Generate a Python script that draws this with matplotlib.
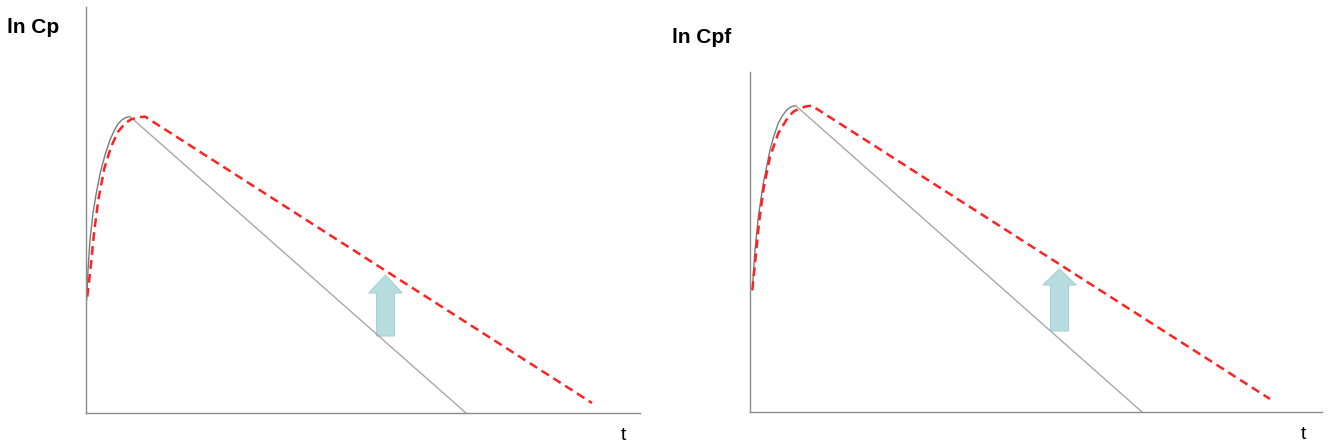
import matplotlib
matplotlib.use("Agg")
import matplotlib.pyplot as plt

plt.rcParams["font.family"] = ["Liberation Sans", "DejaVu Sans"]

# Painel esquerdo: ln Cp (tempo e ln C em unidades arbitrárias)
cp_real_t = [0.014, 0.04, 0.08, 0.14, 0.21, 0.29, 0.38, 0.48, 0.56, 0.64, 0.72, 0.80, 0.88]
cp_real_y = [2.83, 3.58, 4.33, 5.0, 5.53, 6.03, 6.45, 6.83, 7.05, 7.23, 7.33, 7.39, 7.41]
cp_elim_t = [0.88, 7.60]
cp_elim_y = [7.41, 0.0]
cp_pred_t = [0.026, 0.094, 0.16, 0.246, 0.37, 0.50, 0.64, 0.78, 0.90, 1.04, 1.18, 10.12]
cp_pred_y = [2.91, 3.66, 4.49, 5.33, 6.13, 6.65, 7.03, 7.24, 7.34, 7.39, 7.41, 0.25]
cp_seta_t = 5.99
cp_seta_y = [1.925, 3.45]

# Painel direito: ln Cpf
cpf_real_t = [0.046, 0.10, 0.166, 0.266, 0.40, 0.48, 0.566, 0.65, 0.734, 0.82, 0.914]
cpf_real_y = [3.05, 4.05, 4.88, 5.72, 6.55, 6.91, 7.22, 7.41, 7.55, 7.63, 7.66]
cpf_elim_t = [0.914, 7.84]
cpf_elim_y = [7.66, 0.0]
cpf_pred_t = [0.046, 0.114, 0.18, 0.266, 0.40, 0.566, 0.766, 0.88, 1.0, 1.12, 1.234, 10.4]
cpf_pred_y = [3.05, 3.88, 4.72, 5.55, 6.38, 6.97, 7.38, 7.52, 7.59, 7.64, 7.66, 0.325]
cpf_seta_t = 6.19
cpf_seta_y = [2.025, 3.575]

W, H = 1330, 444
fig = plt.figure(figsize=(W / 100, H / 100), dpi=100)


def painel(rect, xlim, ylim, real_t, real_y, elim_t, elim_y, pred_t, pred_y,
           seta_t, seta_y, head_len):
    ax = fig.add_axes(rect)
    ax.set_xlim(*xlim)
    ax.set_ylim(*ylim)
    ax.plot(real_t, real_y, color="#7a7a7a", lw=1.0, solid_joinstyle="round")
    ax.plot(elim_t, elim_y, color="#a8a8a8", lw=1.0)
    ax.plot(pred_t, pred_y, color="#ff2222", lw=1.8, linestyle=(0, (3.5, 2.1)))
    # Seta indicando o deslocamento da curva
    ax.arrow(seta_t, seta_y[0], 0, seta_y[1] - seta_y[0], width=0.36,
             head_width=0.67, head_length=head_len, length_includes_head=True,
             facecolor="#b8dde1", edgecolor="#a9d0d5", lw=0.8)
    for s in ["top", "right"]:
        ax.spines[s].set_visible(False)
    for s in ["left", "bottom"]:
        ax.spines[s].set_color("#8c8c8c")
        ax.spines[s].set_linewidth(1.0)
    ax.set_xticks([])
    ax.set_yticks([])
    ax.patch.set_alpha(0)
    return ax


painel([86 / W, 31 / H, 554 / W, 406 / H], (0, 11.08), (0, 10.15),
       cp_real_t, cp_real_y, cp_elim_t, cp_elim_y, cp_pred_t, cp_pred_y,
       cp_seta_t, cp_seta_y, 0.45)
painel([750 / W, 32 / H, 572 / W, 340 / H], (0, 11.44), (0, 8.5),
       cpf_real_t, cpf_real_y, cpf_elim_t, cpf_elim_y, cpf_pred_t, cpf_pred_y,
       cpf_seta_t, cpf_seta_y, 0.40)

# Rótulos dos eixos
fig.text(7 / W, 1 - 33 / H, "ln Cp", fontsize=15, fontweight="bold",
         ha="left", va="baseline")
fig.text(672 / W, 1 - 43 / H, "ln Cpf", fontsize=15, fontweight="bold",
         ha="left", va="baseline")
fig.text(621 / W, 1 - 440 / H, "t", fontsize=14, ha="left", va="baseline")
fig.text(1301 / W, 1 - 439 / H, "t", fontsize=14, ha="left", va="baseline")

fig.savefig("out.png", dpi=100)
